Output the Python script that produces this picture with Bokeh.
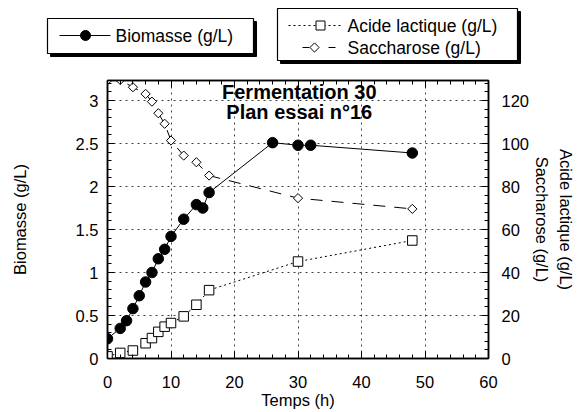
import numpy as np
from bokeh.plotting import figure
from bokeh.layouts import column
from bokeh.models import Range1d, LinearAxis, SingleIntervalTicker, Label
from bokeh.core.properties import value
from bokeh.embed import file_html
from bokeh.resources import INLINE

# ---- data ----
bio_t = [0, 2, 3, 4, 5, 6, 7, 8, 9, 10, 12, 14, 15, 16, 26, 30, 32, 48]
bio_y = [0.23, 0.35, 0.44, 0.58, 0.73, 0.89, 1.0, 1.16, 1.27, 1.42, 1.62,
         1.79, 1.75, 1.93, 2.51, 2.48, 2.48, 2.39]
sac_t = [0, 2, 4, 6, 7, 8, 9, 10, 12, 14, 16, 30, 48]
sac_y = [129.5, 129.6, 126.2, 123.1, 119.5, 114.1, 109.2, 101.4, 94.4, 91.3,
         85.1, 74.6, 69.6]
acl_t = [0, 2, 4, 6, 7, 8, 9, 10, 12, 14, 16, 30, 48]
acl_y = [1.0, 2.6, 3.7, 7.1, 9.5, 12.4, 14.8, 16.5, 19.6, 25.0, 31.8, 45.1, 54.9]

title_lines = ["Fermentation 30", "Plan essai n°16"]
x_label = "Temps (h)"
left_label = "Biomasse (g/L)"
right_labels = ["Acide lactique (g/L)", "Saccharose (g/L)"]
x_ticks = list(range(0, 61, 10))

FONT = "Liberation Sans"

# ================= legend strip (top) =================
top = figure(width=580, height=72, output_backend="svg", toolbar_location=None,
             x_range=Range1d(0, 580), y_range=Range1d(72, 0),
             x_axis_type=None, y_axis_type=None,
             min_border_left=0, min_border_right=0, min_border_top=0,
             min_border_bottom=0)
top.frame_align = False
top.outline_line_color = None
top.xgrid.visible = False
top.ygrid.visible = False
top.background_fill_color = "white"
top.border_fill_color = "white"

# boxes with drop shadow: (left, top, right, bottom) in strip pixels
boxes = [(47, 18, 253, 53), (277, 8, 517, 60)]
for (l, t, r, b) in boxes:
    top.quad(left=l + 3, right=r + 3, top=t + 3, bottom=b + 3,
             fill_color="black", line_color="black")
    top.quad(left=l, right=r, top=t, bottom=b, fill_color="white",
             line_color="black", line_width=1.2)

# legend 1 : Biomasse
top.line([59, 110], [35, 35], line_color="black", line_width=1)
top.scatter([85], [35], marker="circle", size=10, fill_color="black",
            line_color="black")
top.text([115], [35], text=[left_label], text_font=value(FONT),
         text_font_size="17.5px", text_baseline="middle", text_align="left",
         text_color="black")

# legend 2 : Acide lactique, Saccharose
top.line([288, 342], [25, 25], line_color="black", line_width=1,
         line_dash="2 3")
top.scatter([320], [25], marker="square", size=9, fill_color="white",
            line_color="black")
top.line([302, 340], [47, 47], line_color="black", line_width=1,
         line_dash="7 19")
top.scatter([314], [47], marker="square", angle=np.pi / 4, size=6.5,
            fill_color="white", line_color="black")
top.text([347, 347], [25, 47], text=right_labels, text_font=value(FONT),
         text_font_size="17.5px", text_baseline="middle", text_align="left",
         text_color="black")

# ================= main chart =================
p = figure(width=580, height=340, output_backend="svg", toolbar_location=None,
           x_range=Range1d(0, 60), y_range=Range1d(0, 3.233),
           min_border_left=107, min_border_right=92, min_border_top=8,
           min_border_bottom=54)
p.frame_align = False
p.extra_y_ranges = {"right": Range1d(0, 129.33)}
p.outline_line_color = "black"
p.outline_line_width = 1.5
p.background_fill_color = "white"
p.border_fill_color = "white"


def style_axis(ax):
    ax.axis_line_color = "black"
    ax.axis_line_width = 1.5
    ax.major_tick_in = 7
    ax.major_tick_out = 0
    ax.minor_tick_in = 4
    ax.minor_tick_out = 0
    ax.major_tick_line_color = "black"
    ax.minor_tick_line_color = "black"
    ax.major_label_text_font = FONT
    ax.major_label_text_font_size = "16.5px"
    ax.major_label_text_color = "black"
    ax.axis_label_text_font = FONT
    ax.axis_label_text_font_size = "16.5px"
    ax.axis_label_text_font_style = "normal"
    ax.axis_label_text_color = "black"


xa = p.xaxis[0]
xa.ticker = SingleIntervalTicker(interval=10, num_minor_ticks=5)
style_axis(xa)
xa.major_label_standoff = 17
xa.axis_label = x_label
xa.axis_label_standoff = 0

ya = p.yaxis[0]
ya.ticker = SingleIntervalTicker(interval=0.5, num_minor_ticks=5)
style_axis(ya)
ya.major_label_standoff = 9
ya.axis_label = left_label
ya.axis_label_standoff = 44

ra = LinearAxis(y_range_name="right",
                ticker=SingleIntervalTicker(interval=20, num_minor_ticks=5))
style_axis(ra)
ra.major_label_standoff = 13
ra.axis_label = "\n".join(right_labels)
ra.axis_label_standoff = 1
ra.axis_label_text_line_height = 1.35
p.add_layout(ra, "right")

ta = LinearAxis(ticker=SingleIntervalTicker(interval=10, num_minor_ticks=5))
style_axis(ta)
ta.major_label_overrides = {v: "" for v in x_ticks}
ta.major_label_standoff = 0
p.add_layout(ta, "above")

for g in (p.xgrid[0], p.ygrid[0]):
    g.grid_line_color = "black"
    g.grid_line_alpha = 0.75
    g.grid_line_dash = "2 4"
    g.grid_line_width = 1
p.xgrid[0].ticker = xa.ticker
p.ygrid[0].ticker = ya.ticker

# ---- series ----
p.line(acl_t, acl_y, y_range_name="right", line_color="black",
       line_width=1, line_dash="2 3")
p.scatter(acl_t, acl_y, y_range_name="right", marker="square",
          size=9.5, fill_color="white", line_color="black", line_width=1)

p.line(sac_t, sac_y, y_range_name="right", line_color="black",
       line_width=1, line_dash="12 9")
p.scatter(sac_t, sac_y, y_range_name="right", marker="square",
          angle=np.pi / 4, size=6.5, fill_color="white",
          line_color="black", line_width=1)

p.line(bio_t, bio_y, line_color="black", line_width=1)
p.scatter(bio_t, bio_y, marker="circle", size=10.5,
          fill_color="black", line_color="black")

# ---- title inside the frame ----
for txt, yy in zip(title_lines, [3.099, 2.866]):
    p.add_layout(Label(x=30.2, y=yy, text=txt, text_align="center",
                       text_baseline="middle", text_font=FONT,
                       text_font_size="20px", text_font_style="bold",
                       text_color="black"))

layout = column(top, p, spacing=0)
open("out.html", "w").write(file_html(layout, INLINE))
